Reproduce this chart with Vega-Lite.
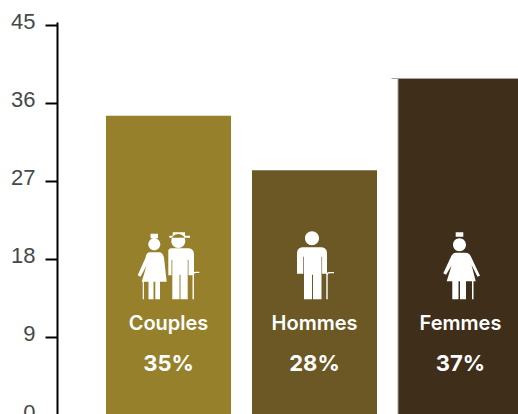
{
"$schema":"https://vega.github.io/schema/vega-lite/v6.json",
"autosize":"none",
"padding":{"left":57,"top":22,"right":0,"bottom":0},
"width":461,"height":392,
"background":"white",
"view":{"stroke":null},
"data":{"values":[
{"groupe":"Couples","valeur":34.5,"part":"35%"},
{"groupe":"Hommes","valeur":28.2,"part":"28%"},
{"groupe":"Femmes","valeur":38.8,"part":"37%"}]},
"encoding":{
"x":{"field":"groupe","type":"nominal","sort":null,"axis":null,
"scale":{"domain":["Couples","Hommes","Femmes"],"range":[1,514],"paddingInner":0.1438,"paddingOuter":0.3288}}
},
"layer":[
{"mark":{"type":"bar","clip":true},
"encoding":{
"y":{"field":"valeur","type":"quantitative",
"scale":{"domain":[0,45.3],"range":[393,0],"nice":false,"zero":true},
"axis":{"values":[0,9,18,27,36,45],"title":null,"grid":false,"domainColor":"#000000","domainWidth":2,"tickColor":"#000000","tickWidth":2,"tickSize":12,"labelPadding":10,"labelOffset":-3,"labelFont":"Liberation Sans","labelFontSize":22,"labelColor":"#45494c"}},
"color":{"field":"groupe","type":"nominal","legend":null,"scale":{"domain":["Couples","Hommes","Femmes"],"range":["#97802b","#6c5824","#3f2e1a"]}}
}},
{"transform":[{"filter":"datum.groupe==='Femmes'"}],
"mark":{"type":"tick","orient":"horizontal","size":138,"thickness":1,"color":"#aaa59c","clip":true,"opacity":1},
"encoding":{"y":{"field":"valeur","type":"quantitative"}}},
{"transform":[{"filter":"datum.groupe==='Femmes'"}],
"mark":{"type":"rule","color":"#aaa59c","strokeWidth":1},
"encoding":{"x":{"field":"groupe","type":"nominal","bandPosition":0},"y":{"field":"valeur","type":"quantitative"},"y2":{"datum":0}}},
{"mark":{"type":"point","filled":true,"fill":"#ffffff","fillOpacity":1,"opacity":1,"strokeWidth":0,"size":4},
"encoding":{
"y":{"datum":17.2,"type":"quantitative"},
"shape":{"field":"groupe","type":"nominal","legend":null,"scale":{"domain":["Couples","Hommes","Femmes"],"range":[
"M-20.2,-21.5a6,6 0 1,0 12,0a6,6 0 1,0 -12,0Z M-18,-32L-10.5,-32L-10.5,-27.5L-18,-27.5Z M-19,-13.5L-9,-13.5Q-6,-13.5 -4.5,-8L-1.8,16L-8.5,16L-8.5,33.5L-13.2,33.5L-13.2,16L-15,16L-15,33.5L-20,33.5L-20,16L-26.8,16L-22,0L-28,11L-30.8,9.5L-23,-8Q-22,-13.5 -19,-13.5Z M-25.8,16L-24.6,16L-24.6,33.5L-25.8,33.5Z M2.8,-24.8a7,7 0 1,0 14,0a7,7 0 1,0 -14,0Z M4.2,-33.5L16.5,-33.5L16.5,-30L21.5,-30L21.5,-28L0.8,-28L0.8,-30L4.2,-30Z M3,-17.5L20,-17.5Q25.5,-17.5 25.5,-11L25.5,9.5L20,9.5L20,-6L19.2,-6L19.2,33.5L12,33.5L12,9L11,9L11,33.5L3.8,33.5L3.8,-6L3,-6L3,9.5L-0.2,9.5L-0.2,-15Q0,-17.5 3,-17.5Z M24,33.5L24,8Q24,6 27,6L30.8,6L30.8,7.2L27,7.2Q25.4,7.2 25.4,9L25.4,33.5Z",
"M-9.5,-27.5a7,7 0 1,0 14,0a7,7 0 1,0 -14,0Z M-12,-18.5L7,-18.5Q12.5,-18.5 12.5,-12L12.5,8L7.6,8L7.6,-9L7,-9L7,33.5L-1.5,33.5L-1.5,9L-2.5,9L-2.5,33.5L-10.5,33.5L-10.5,-9L-11.2,-9L-11.2,8L-17.5,8L-17.5,-12Q-17.5,-18.5 -12,-18.5Z M11.8,33.5L11.8,9Q11.8,6.2 15,6.2L19.5,6.2L19.5,7.4L15,7.4Q13.2,7.4 13.2,9.5L13.2,33.5Z",
"M-7.5,-21a6.5,6.5 0 1,0 13,0a6.5,6.5 0 1,0 -13,0Z M-4.8,-33.5L2.8,-33.5L2.8,-29L-4.8,-29Z M-5,-13L5,-13Q9,-13 11,-8L19.5,10L17,11L11,-1L15.2,15.5L5.5,15.5L5.5,33.5L-0.5,33.5L-0.5,15.5L-2,15.5L-2,33.5L-8.2,33.5L-8.2,15.5L-13.8,15.5L-9,0L-14.5,9L-17.2,7.5L-10,-8Q-8,-13 -5,-13Z M11.5,15.5L13,15.5L13,33.5L11.5,33.5Z"
]}}
}},
{"mark":{"type":"text","font":"Inter","fontWeight":600,"fontSize":20,"color":"#ffffff","clip":true},
"encoding":{"y":{"datum":10.5,"type":"quantitative"},"text":{"field":"groupe","type":"nominal"}}},
{"mark":{"type":"text","font":"Inter","fontWeight":700,"fontSize":22,"color":"#ffffff","clip":true},
"encoding":{"y":{"datum":5.85,"type":"quantitative"},"text":{"field":"part","type":"nominal"}}}
]
}
